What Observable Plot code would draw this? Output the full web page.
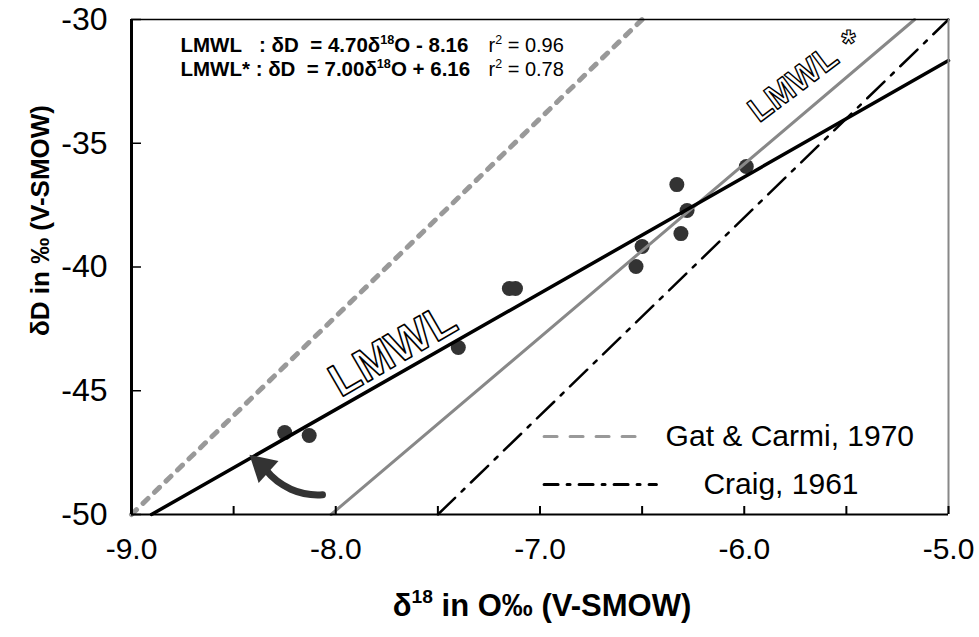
<!DOCTYPE html>
<html>
<head>
<meta charset="utf-8">
<script src="https://cdn.jsdelivr.net/npm/d3@7"></script>
<script src="https://cdn.jsdelivr.net/npm/@observablehq/plot@0.6"></script>
<style>
  body { margin: 0; background: #fff; }
  #chart svg { font-family: "Liberation Sans", Arial, Helvetica, sans-serif; }
</style>
</head>
<body>
<div id="chart"></div>
<script>
// Sampled waters: δ18O and δD (‰ V-SMOW)
const d18O = [-8.25, -8.13, -7.40, -7.15, -7.12, -6.53, -6.50, -6.33, -6.31, -6.28, -5.99];
const dD   = [-46.69, -46.81, -43.25, -40.87, -40.87, -39.98, -39.17, -36.67, -38.65, -37.72, -35.94];

// Meteoric water lines: δD = slope · δ18O + intercept
const lineNames  = ["LMWL", "LMWL*", "Gat & Carmi, 1970", "Craig, 1961"];
const slopes     = [4.70, 7.00, 8, 8];
const intercepts = [-8.16, 6.16, 22, 10];
const r2         = [0.96, 0.78];

// Axis ticks
const xTicks      = [-9, -8, -7, -6, -5];
const xMinorTicks = [-9, -8.5, -8, -7.5, -7, -6.5, -6, -5.5, -5];
const yTicks      = [-50, -45, -40, -35, -30];

const xDomain = [-9, -5];
const yDomain = [-50, -30];

const points = d18O.map((x, i) => ({x, y: dD[i]}));

// Segment of each line clipped to the plotting window
function segment(i) {
  const m = slopes[i], b = intercepts[i];
  const x0 = Math.max(xDomain[0], (yDomain[0] - b) / m);
  const x1 = Math.min(xDomain[1], (yDomain[1] - b) / m);
  return [{x: x0, y: m * x0 + b}, {x: x1, y: m * x1 + b}];
}

const sign = v => (v < 0 ? "- " : "+ ") + Math.abs(v).toFixed(2);
const nb = "\u00a0";
const eqBold = [0, 1].map(i =>
  `${lineNames[i]}${i === 0 ? nb + nb : ""}${nb}:${nb}δD${nb}${nb}=${nb}${slopes[i].toFixed(2)}δ{18}O${nb}${sign(intercepts[i]).replace(" ", nb)}`);
const eqR2 = [0, 1].map(i => `r{2}${nb}=${nb}${r2[i].toFixed(2)}`);

// Legend rows (sample line start/end in δ18O, row level in δD, label start)
const legendRows = [
  {name: lineNames[2], x1: -6.98, x2: -6.48, y: -46.85, tx: -6.385},
  {name: lineNames[3], x1: -6.98, x2: -6.43, y: -48.79, tx: -6.20}
];

const outlineFont = `"Liberation Sans Narrow", "Arial Narrow", "Liberation Sans", Arial, sans-serif`;

const chart = Plot.plot({
  width: 979,
  height: 637,
  marginLeft: 131,
  marginRight: 31,
  marginTop: 19,
  marginBottom: 123,
  style: {fontSize: "28px", background: "#fff"},
  x: {domain: xDomain, axis: null},
  y: {domain: yDomain, axis: null},
  marks: [
    // data points
    Plot.dot(points, {x: "x", y: "y", r: 7.5, fill: "#333"}),

    // reference lines
    Plot.line(segment(2), {x: "x", y: "y", stroke: "#999", strokeWidth: 5, strokeDasharray: "7,9"}),
    Plot.line(segment(3), {x: "x", y: "y", stroke: "#000", strokeWidth: 2.5, strokeDasharray: "24,9,4,9"}),
    Plot.line(segment(1), {x: "x", y: "y", stroke: "#888", strokeWidth: 3}),
    Plot.line(segment(0), {x: "x", y: "y", stroke: "#000", strokeWidth: 3.5}),

    // outlined line names
    Plot.text(["LMWL"], {x: -7.72, y: -43.37, text: d => d, rotate: -30, fontSize: 46, fontWeight: "bold",
      fontFamily: outlineFont, fill: "#fff", stroke: "#000", strokeWidth: 1.6, paintOrder: "normal"}),
    Plot.text(["LMWL"], {x: -5.76, y: -32.6, text: d => d, rotate: -37, fontSize: 34, fontWeight: "bold",
      fontFamily: outlineFont, fill: "#fff", stroke: "#000", strokeWidth: 1.4, paintOrder: "normal"}),
    Plot.text(["*"], {x: -5.49, y: -31.0, text: d => d, fontSize: 36, fontWeight: "bold",
      fontFamily: outlineFont, fill: "#fff", stroke: "#000", strokeWidth: 1.2, paintOrder: "normal"}),

    // curved arrow with a solid head
    Plot.arrow([{x1: -8.065, y1: -49.2, x2: -8.344, y2: -48.18}], {
      x1: "x1", y1: "y1", x2: "x2", y2: "y2", bend: 28, stroke: "#333", strokeWidth: 7, headLength: 0}),
    Plot.dot([{x: -8.36, y: -48.05}], {x: "x", y: "y", symbol: "triangle", r: 11, rotate: -48, fill: "#333"}),

    // equations
    Plot.text(eqBold, {x: -8.76, y: (d, i) => [-31.05, -32.02][i], text: d => d, textAnchor: "start",
      fontSize: 20.5, fontWeight: "bold", fill: "#000"}),
    Plot.text(eqR2, {x: -7.252, y: (d, i) => [-31.05, -32.02][i], text: d => d, textAnchor: "start",
      fontSize: 20, fill: "#000"}),

    // legend
    Plot.line(legendRows.slice(0, 1).flatMap(r => [{x: r.x1, y: r.y}, {x: r.x2, y: r.y}]),
      {x: "x", y: "y", stroke: "#999", strokeWidth: 3, strokeDasharray: "13,13"}),
    Plot.line(legendRows.slice(1).flatMap(r => [{x: r.x1, y: r.y}, {x: r.x2, y: r.y}]),
      {x: "x", y: "y", stroke: "#000", strokeWidth: 3, strokeDasharray: "14,9,3,9"}),
    Plot.text(legendRows, {x: "tx", y: "y", text: "name", textAnchor: "start", fontSize: 30, fill: "#000"}),

    // frame
    Plot.ruleX([xDomain[0]], {stroke: "#000", strokeWidth: 3}),
    Plot.ruleX([xDomain[1]], {stroke: "#888", strokeWidth: 2}),
    Plot.ruleY([yDomain[1]], {stroke: "#000", strokeWidth: 1.6}),
    Plot.ruleY([yDomain[0]], {stroke: "#000", strokeWidth: 2.2}),

    // inward ticks
    Plot.ruleX(xMinorTicks, {x: d => d, y1: yDomain[0], y2: yDomain[0], insetTop: -8, stroke: "#000", strokeWidth: 2}),
    Plot.ruleY(yTicks, {y: d => d, x1: xDomain[0], x2: xDomain[0], insetRight: -10, stroke: "#000", strokeWidth: 1.5}),

    // tick labels
    Plot.axisX(xTicks, {tickSize: 0, tickPadding: 23, tickFormat: d => d.toFixed(1), label: null, fontSize: 30}),
    Plot.axisY(yTicks, {tickSize: 0, tickPadding: 24, tickFormat: d => String(d), label: null, fontSize: 32}),

    // axis titles, placed just outside the plotting window
    Plot.text(["δD in ‰ (V-SMOW)"], {x: -9.4455, y: -38.12, rotate: -90, text: d => d,
      fontSize: 26, fontWeight: "bold", fill: "#000"}),
    Plot.text(["δ{18} in O‰ (V-SMOW)"], {x: -6.99, y: -53.68, text: d => d,
      fontSize: 31, fontWeight: "bold", fill: "#000"})
  ]
});

document.getElementById("chart").appendChild(chart);

// Turn {..} runs inside labels into raised superscripts
chart.querySelectorAll("text").forEach(t => {
  const leaves = t.querySelectorAll("tspan").length ? [...t.querySelectorAll("tspan")] : [t];
  leaves.forEach(el => {
    const s = el.textContent;
    if (!s.includes("{")) return;
    const fs = parseFloat(getComputedStyle(el).fontSize) || 20;
    const shift = fs * 0.4;
    el.textContent = "";
    let raised = false;
    s.split(/(\{[^}]*\})/).forEach(part => {
      if (!part) return;
      const sp = document.createElementNS("http://www.w3.org/2000/svg", "tspan");
      if (part.startsWith("{")) {
        sp.textContent = part.slice(1, -1);
        sp.setAttribute("font-size", (fs * 0.62).toFixed(1));
        sp.setAttribute("dy", (-shift).toFixed(1));
        raised = true;
      } else {
        sp.textContent = part;
        if (raised) { sp.setAttribute("dy", shift.toFixed(1)); raised = false; }
      }
      el.appendChild(sp);
    });
  });
});
</script>
</body>
</html>
